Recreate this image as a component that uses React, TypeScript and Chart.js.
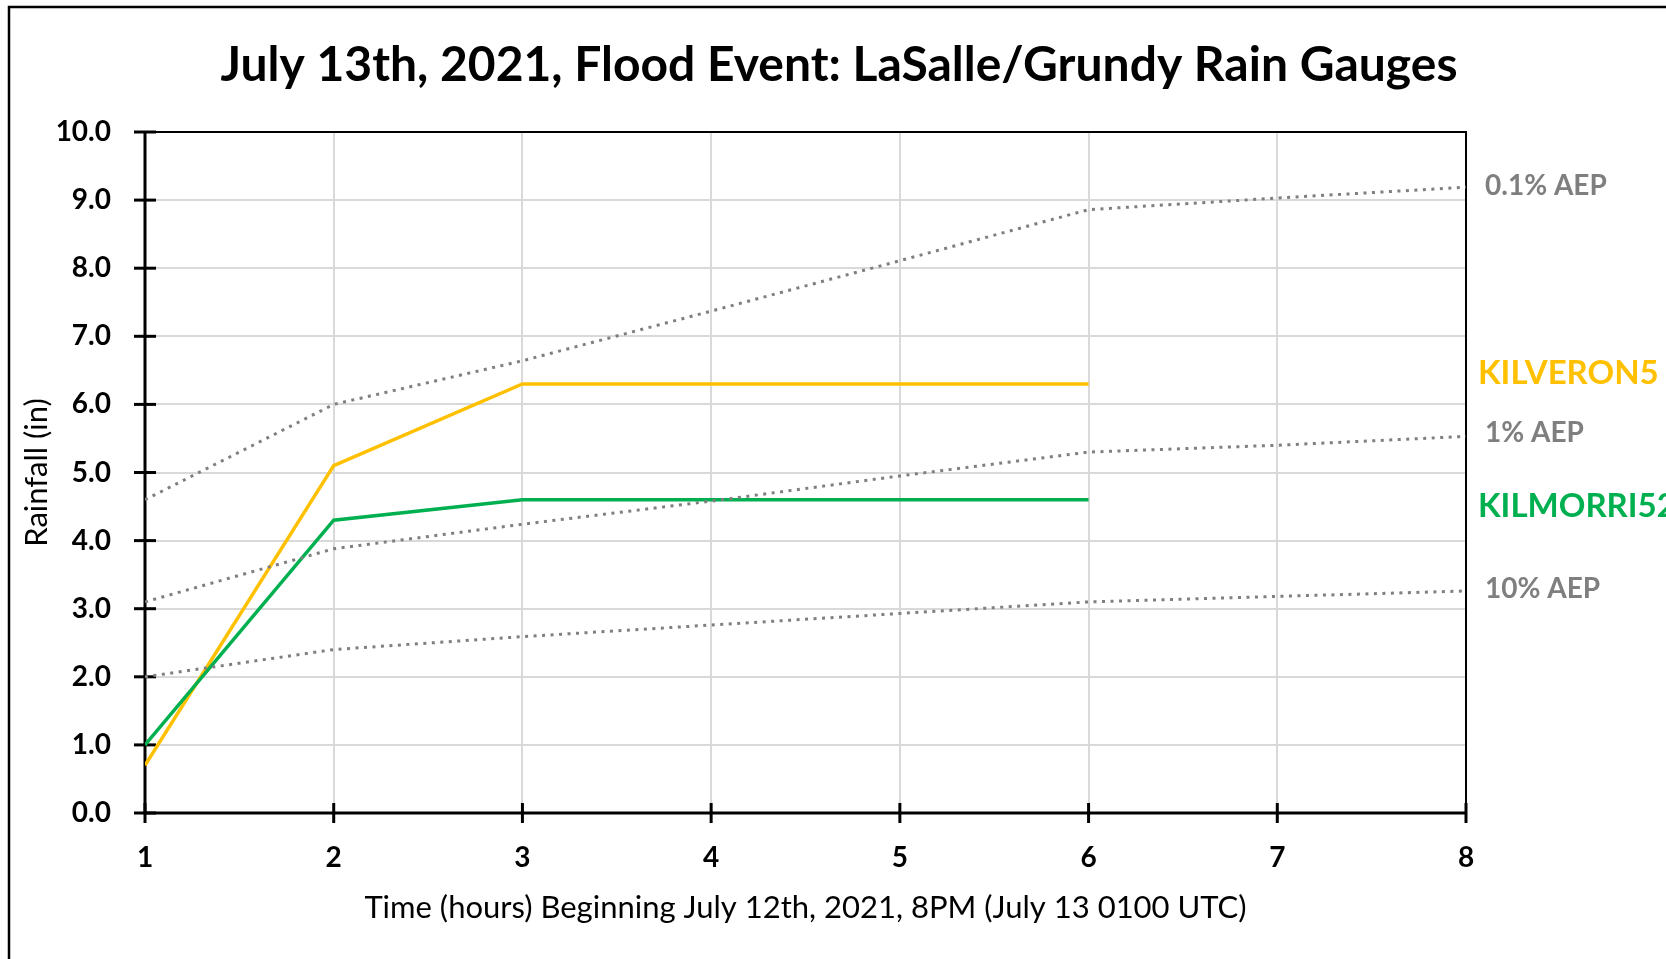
import React, { useEffect, useRef } from "react";
import { Chart, registerables } from "chart.js";

Chart.register(...registerables);

// ---- Data ----
const chartTitle = "July 13th, 2021, Flood Event: LaSalle/Grundy Rain Gauges";
const xTitle = "Time (hours) Beginning July 12th, 2021, 8PM (July 13 0100 UTC)";
const yTitle = "Rainfall (in)";

const hours = [1, 2, 3, 4, 5, 6, 7, 8];
const yTickValues = [0, 1, 2, 3, 4, 5, 6, 7, 8, 9, 10];

const kilveron5 = [0.7, 5.1, 6.3, 6.3, 6.3, 6.3];
const kilmorri52 = [1.0, 4.3, 4.6, 4.6, 4.6, 4.6];
const aep01 = [4.6, 6.0, 6.64, 7.37, 8.11, 8.86, 9.03, 9.19];
const aep1 = [3.1, 3.88, 4.24, 4.58, 4.95, 5.3, 5.4, 5.53];
const aep10 = [2.0, 2.4, 2.59, 2.76, 2.93, 3.1, 3.18, 3.26];

const seriesNames = ["KILVERON5", "KILMORRI52", "0.1% AEP", "1% AEP", "10% AEP"];
// value (in) at which each series' right-hand label sits
const labelValues = [6.47, 4.515, 9.22, 5.59, 3.3];

const GOLD = "#FFC000";
const GREEN = "#00B050";
const GRAY = "#7F7F7F";
const GRID = "#D9D9D9";
const FONT = "Lato, 'Open Sans', sans-serif";

const toPoints = (vals: number[]) => vals.map((v, i) => ({ x: hours[i], y: v }));

const decorPlugin = {
  id: "decor",
  beforeDatasetsDraw(chart: any) {
    const { ctx, chartArea: a, scales } = chart;
    const x = scales.x;
    const y = scales.y;
    ctx.save();
    ctx.strokeStyle = "#000";
    // top & right plot border
    ctx.lineWidth = 2;
    ctx.beginPath();
    ctx.moveTo(a.left, a.top);
    ctx.lineTo(a.right, a.top);
    ctx.lineTo(a.right, a.bottom);
    ctx.stroke();
    // axes
    ctx.lineWidth = 3;
    ctx.beginPath();
    ctx.moveTo(a.left, a.top);
    ctx.lineTo(a.left, a.bottom);
    ctx.lineTo(a.right, a.bottom);
    ctx.stroke();
    // crossing tick marks
    ctx.lineWidth = 3;
    yTickValues.forEach((v) => {
      const py = y.getPixelForValue(v);
      ctx.beginPath();
      ctx.moveTo(a.left - 11, py);
      ctx.lineTo(a.left + 11, py);
      ctx.stroke();
    });
    hours.forEach((h) => {
      const px = x.getPixelForValue(h);
      ctx.beginPath();
      ctx.moveTo(px, a.bottom - 10);
      ctx.lineTo(px, a.bottom + 10);
      ctx.stroke();
    });
    ctx.restore();
  },
  afterDraw(chart: any) {
    const { ctx, chartArea: a, scales } = chart;
    const y = scales.y;
    ctx.save();
    // outer frame
    ctx.strokeStyle = "#000";
    ctx.lineWidth = 2.5;
    ctx.strokeRect(9, 7, 2000, 2000);
    // title
    ctx.fillStyle = "#000";
    ctx.font = `bold 48px ${FONT}`;
    ctx.textAlign = "center";
    ctx.textBaseline = "alphabetic";
    ctx.fillText(chartTitle, 839, 81);
    // right-hand series labels
    const colors = [GOLD, GREEN, GRAY, GRAY, GRAY];
    seriesNames.forEach((name, i) => {
      const gauge = i < 2;
      const size = gauge ? 33 : 28;
      ctx.font = `bold ${size}px ${FONT}`;
      ctx.fillStyle = colors[i];
      ctx.textAlign = "left";
      ctx.textBaseline = "alphabetic";
      const py = y.getPixelForValue(labelValues[i]);
      ctx.fillText(name, a.right + (gauge ? 12 : 19), py + size * 0.36);
    });
    ctx.restore();
  },
};

export default function App() {
  const ref = useRef<HTMLCanvasElement | null>(null);

  useEffect(() => {
    if (!ref.current) return;
    const dotted = {
      borderColor: GRAY,
      borderWidth: 3,
      borderDash: [3, 5.5],
      pointRadius: 0,
      tension: 0,
    };
    const chart = new Chart(ref.current, {
      type: "line",
      data: {
        datasets: [
          { label: seriesNames[2], data: toPoints(aep01), ...dotted },
          { label: seriesNames[3], data: toPoints(aep1), ...dotted },
          { label: seriesNames[4], data: toPoints(aep10), ...dotted },
          {
            label: seriesNames[1],
            data: toPoints(kilmorri52),
            borderColor: GREEN,
            borderWidth: 3.5,
            pointRadius: 0,
            tension: 0,
          },
          {
            label: seriesNames[0],
            data: toPoints(kilveron5),
            borderColor: GOLD,
            borderWidth: 3.5,
            pointRadius: 0,
            tension: 0,
          },
        ],
      },
      options: {
        animation: false,
        responsive: false,
        devicePixelRatio: 1,
        layout: { padding: { left: 0, top: 132, right: 200, bottom: 0 } },
        plugins: {
          legend: { display: false },
          tooltip: { enabled: false },
          title: { display: false },
        },
        scales: {
          x: {
            type: "linear",
            min: 1,
            max: 8,
            afterFit: (s: any) => {
              s.height = 146;
            },
            border: { display: false },
            grid: { color: GRID, lineWidth: 2, drawTicks: false },
            ticks: {
              stepSize: 1,
              padding: 28,
              color: "#000",
              font: { family: FONT, size: 28, weight: "bold" },
            },
            title: {
              display: true,
              text: xTitle,
              color: "#000",
              font: { family: FONT, size: 31, weight: "normal" },
              padding: { top: 0, bottom: 32 },
            },
          },
          y: {
            min: 0,
            max: 10,
            afterFit: (s: any) => {
              s.width = 145;
            },
            border: { display: false },
            grid: { color: GRID, lineWidth: 2, drawTicks: false },
            ticks: {
              stepSize: 1,
              padding: 34,
              color: "#000",
              font: { family: FONT, size: 28, weight: "bold" },
              callback: (v: any) => Number(v).toFixed(1),
            },
            title: {
              display: true,
              text: yTitle,
              color: "#000",
              font: { family: FONT, size: 31, weight: "normal" },
              padding: { top: 18, bottom: 0 },
            },
          },
        },
      },
      plugins: [decorPlugin],
    });
    return () => chart.destroy();
  }, []);

  return (
    <div style={{ position: "absolute", left: 0, top: 0, width: 1666, height: 959, background: "#fff" }}>
      <canvas ref={ref} width={1666} height={959} style={{ display: "block" }} />
    </div>
  );
}
